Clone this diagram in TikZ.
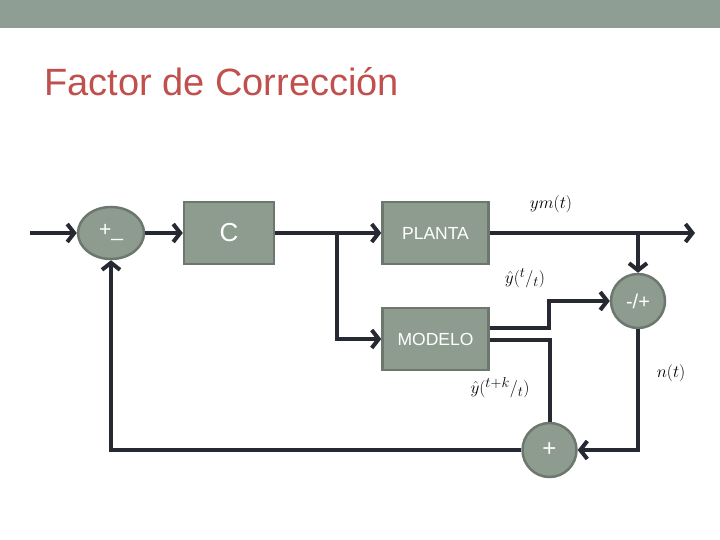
\documentclass[tikz,border=0pt]{standalone}
\usepackage{fontspec}
\setmainfont{Liberation Sans}
\usetikzlibrary{positioning,arrows.meta,calc,shapes.geometric}
\definecolor{band}{HTML}{8F9E94}
\definecolor{sage}{HTML}{8E9C90}
\definecolor{edge}{HTML}{6C786E}
\definecolor{wire}{HTML}{262932}
\definecolor{ttl}{HTML}{C0504D}
\tikzset{
  blk/.style={draw=edge,fill=sage,line width=2.5pt,minimum width=106pt,minimum height=62pt,inner sep=0pt,text=white,font=\fontsize{17.5}{20}\selectfont},
  sumnode/.style={circle,draw=edge,fill=sage,line width=2.5pt,minimum size=54pt,inner sep=0pt,text=white,font=\fontsize{20}{22}\selectfont},
  wr/.style={wire,line width=4pt},
  arr/.style={wr,-{Straight Barb[length=7pt,width=18pt]}},
  lbl/.style={font=\fontsize{19}{21}\selectfont,inner sep=0pt},
}
\begin{document}
\begin{tikzpicture}[x=1pt,y=-1pt]
\useasboundingbox (0,0) rectangle (720,540);
\fill[band] (0,0) rectangle (720,28);
\node[anchor=base west,text=ttl,font=\fontsize{38}{40}\selectfont,inner sep=0pt] (title) at (44,96) {Factor de Corrección};
% blocks
\node[ellipse,draw=edge,fill=sage,line width=2.5pt,minimum width=66pt,minimum height=52pt,inner sep=0pt,text=white,font=\fontsize{21}{22}\selectfont] (sum1) at (111,233) {+\_};
\node[blk,minimum width=90pt,font=\fontsize{26}{28}\selectfont] (ctrl) at (229,233) {C};
\node[blk] (planta) at (435.5,233) {PLANTA};
\node[blk] (modelo) at (435.5,339) {MODELO};
\node[sumnode] (sum2) at (638,301) {-/+};
\node[sumnode,font=\fontsize{24}{26}\selectfont] (sum3) at (549.5,450) {+};
\coordinate (in) at (30,233);
\coordinate (out) at (695,233);
\coordinate (split) at (337,233);
% wires
\draw[arr] (in) -- (sum1.west);
\draw[arr] (sum1.east) -- (ctrl.west);
\draw[arr] (ctrl.east) -- (planta.west);
\draw[arr] (split) |- (modelo.west);
\draw[arr] (planta.east) -- (out);
\draw[arr] (sum2.north |- planta.east) -- (sum2.north);
\draw[arr] ([yshift=11pt]modelo.east) -- ++(59,0) |- (sum2.west);
\draw[wr] ([yshift=-1pt]modelo.east) -| (sum3.north);
\draw[arr] (sum2.south) |- (sum3.east);
\draw[arr] (sum3.west) -| (sum1.south);
% labels
\node[lbl] (lym) at (551,204) {$ym(t)$};
\node[lbl] (lyt) at (525,278) {$\hat{y}({}^{t}/_{t})$};
\node[lbl] (lyk) at (500,388) {$\hat{y}({}^{t+k}/_{t})$};
\node[lbl] (ln) at (671,373) {$n(t)$};
\end{tikzpicture}
\end{document}
